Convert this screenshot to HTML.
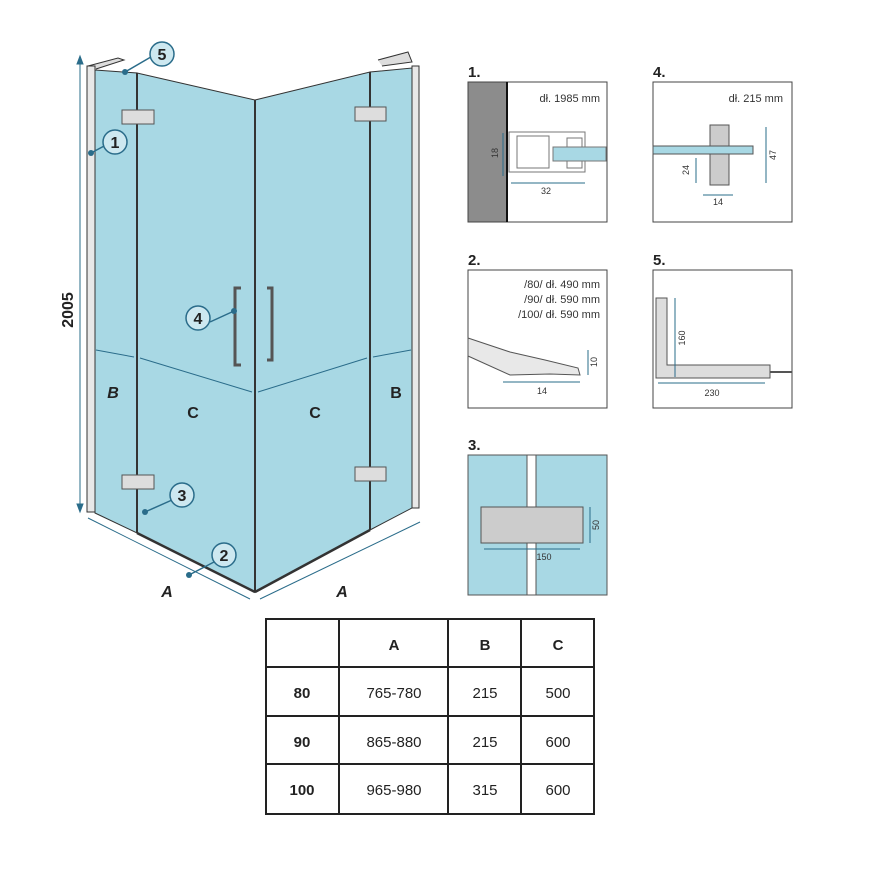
<!DOCTYPE html>
<html><head><meta charset="utf-8"><style>
html,body{margin:0;padding:0;background:#fff;}
svg{display:block;font-family:"Liberation Sans",sans-serif;}
</style></head><body>
<svg width="870" height="870" viewBox="0 0 870 870" xmlns="http://www.w3.org/2000/svg">
<!-- main shower -->
<g stroke="#333" stroke-width="1">
<!-- top wall brackets -->
<polyline points="88,66 118,58 124,60 96,69" fill="#ddd"/>
<polyline points="378,60 408,52 412,62 382,66" fill="#ddd"/>
<!-- left frame -->
<rect x="87" y="66" width="8" height="446" fill="#e8e8e8"/>
<!-- left fixed glass -->
<polygon points="95,70 137,73 137,533 95,513" fill="#a8d8e4"/>
<!-- left door -->
<polygon points="137,73 255,100 255,592 137,533" fill="#a8d8e4"/>
<!-- right door -->
<polygon points="255,100 370,72 370,530 255,592" fill="#a8d8e4"/>
<!-- right fixed -->
<polygon points="370,72 412,68 412,508 370,530" fill="#a8d8e4"/>
<rect x="412" y="66" width="7" height="442" fill="#e8e8e8"/>
</g>
<g stroke="#333" stroke-width="2" fill="none">
<line x1="137" y1="73" x2="137" y2="533"/>
<line x1="255" y1="100" x2="255" y2="592"/>
<line x1="370" y1="72" x2="370" y2="530"/>
<line x1="137" y1="533" x2="255" y2="592" stroke-width="2.5"/>
<line x1="255" y1="592" x2="370" y2="530" stroke-width="2.5"/>
</g>
<!-- hinges -->
<g fill="#ddd" stroke="#555" stroke-width="1">
<rect x="122" y="110" width="32" height="14"/>
<rect x="355" y="107" width="31" height="14"/>
<rect x="122" y="475" width="32" height="14"/>
<rect x="355" y="467" width="31" height="14"/>
</g>
<!-- handles -->
<g fill="none" stroke="#555" stroke-width="3">
<polyline points="241,288 235,288 235,365 241,365"/>
<polyline points="267,288 272,288 272,360 267,360"/>
</g>
<!-- dimension lines -->
<g stroke="#2a6c8a" stroke-width="1" fill="#2a6c8a">
<line x1="80" y1="58" x2="80" y2="510"/>
<polygon points="80,56 77,64 83,64"/><polygon points="80,512 77,504 83,504"/>
<line x1="96" y1="350" x2="134" y2="357"/>
<line x1="140" y1="358" x2="252" y2="392"/>
<line x1="258" y1="392" x2="367" y2="358"/>
<line x1="373" y1="357" x2="411" y2="350"/>
<line x1="88" y1="518" x2="250" y2="599"/>
<line x1="260" y1="599" x2="420" y2="522"/>
</g>
<g font-weight="bold" font-size="16" fill="#222">
<text x="73" y="310" transform="rotate(-90 73 310)" text-anchor="middle">2005</text>
<text x="113" y="398" text-anchor="middle" font-style="italic">B</text>
<text x="193" y="418" text-anchor="middle">C</text>
<text x="315" y="418" text-anchor="middle">C</text>
<text x="396" y="398" text-anchor="middle">B</text>
<text x="167" y="597" text-anchor="middle" font-style="italic">A</text>
<text x="342" y="597" text-anchor="middle" font-style="italic">A</text>
</g>
<!-- callouts -->
<g stroke="#2a6c8a" stroke-width="1.5">
<line x1="125" y1="72" x2="156" y2="54"/>
<line x1="91" y1="153" x2="106" y2="145"/>
<line x1="234" y1="311" x2="210" y2="322"/>
<line x1="145" y1="512" x2="172" y2="500"/>
<line x1="189" y1="575" x2="214" y2="562"/>
</g>
<g fill="#2a6c8a">
<circle cx="125" cy="72" r="3"/><circle cx="91" cy="153" r="3"/><circle cx="234" cy="311" r="3"/><circle cx="145" cy="512" r="3"/><circle cx="189" cy="575" r="3"/>
</g>
<g fill="#cde8f0" stroke="#2a6c8a" stroke-width="1.5">
<circle cx="162" cy="54" r="12"/><circle cx="115" cy="142" r="12"/><circle cx="198" cy="318" r="12"/><circle cx="182" cy="495" r="12"/><circle cx="224" cy="555" r="12"/>
</g>
<g font-size="16" font-weight="bold" fill="#222" text-anchor="middle">
<text x="162" y="60">5</text><text x="115" y="148">1</text><text x="198" y="324">4</text><text x="182" y="501">3</text><text x="224" y="561">2</text>
</g>

<!-- detail boxes -->
<g font-size="15" font-weight="bold" fill="#222">
<text x="468" y="77">1.</text><text x="653" y="77">4.</text>
<text x="468" y="265">2.</text><text x="653" y="265">5.</text>
<text x="468" y="450">3.</text>
</g>
<g fill="#fff" stroke="#444" stroke-width="1">
<rect x="468" y="82" width="139" height="140"/>
<rect x="653" y="82" width="139" height="140"/>
<rect x="468" y="270" width="139" height="138"/>
<rect x="653" y="270" width="139" height="138"/>
</g>
<!-- box1 -->
<rect x="468" y="82" width="39" height="140" fill="#8c8c8c" stroke="#444"/>
<line x1="507" y1="82" x2="507" y2="222" stroke="#111" stroke-width="2"/>
<g fill="none" stroke="#777" stroke-width="1">
<rect x="509" y="132" width="76" height="40"/>
<rect x="517" y="136" width="32" height="32"/>
<rect x="567" y="138" width="15" height="30"/>
</g>
<rect x="553" y="147" width="53" height="14" fill="#a8d8e4" stroke="#777"/>
<text x="600" y="102" font-size="11" text-anchor="end" fill="#333">dł. 1985 mm</text>
<line x1="503" y1="133" x2="503" y2="176" stroke="#2a6c8a"/>
<line x1="511" y1="183" x2="585" y2="183" stroke="#2a6c8a"/>
<text x="498" y="153" font-size="9" fill="#333" transform="rotate(-90 498 153)" text-anchor="middle">18</text>
<text x="546" y="194" font-size="9" fill="#333" text-anchor="middle">32</text>
<!-- box4 -->
<rect x="710" y="125" width="19" height="60" fill="#ccc" stroke="#555"/>
<rect x="653" y="146" width="100" height="8" fill="#a8d8e4" stroke="#555"/>
<text x="783" y="102" font-size="11" text-anchor="end" fill="#333">dł. 215 mm</text>
<g stroke="#2a6c8a"><line x1="766" y1="127" x2="766" y2="183"/><line x1="696" y1="158" x2="696" y2="183"/><line x1="703" y1="195" x2="733" y2="195"/></g>
<text x="776" y="155" font-size="9" fill="#333" transform="rotate(-90 776 155)" text-anchor="middle">47</text>
<text x="689" y="170" font-size="9" fill="#333" transform="rotate(-90 689 170)" text-anchor="middle">24</text>
<text x="718" y="205" font-size="9" fill="#333" text-anchor="middle">14</text>
<!-- box2 -->
<text x="600" y="288" font-size="11" text-anchor="end" fill="#333">/80/ dł. 490 mm</text>
<text x="600" y="303" font-size="11" text-anchor="end" fill="#333">/90/ dł. 590 mm</text>
<text x="600" y="318" font-size="11" text-anchor="end" fill="#333">/100/ dł. 590 mm</text>
<polygon points="468,338 510,352 545,360 578,368 580,375 550,374 510,375 468,356" fill="#e8e8e8" stroke="#555"/>
<line x1="503" y1="382" x2="580" y2="382" stroke="#2a6c8a"/>
<line x1="588" y1="350" x2="588" y2="375" stroke="#2a6c8a"/>
<text x="542" y="394" font-size="9" fill="#333" text-anchor="middle">14</text>
<text x="597" y="362" font-size="9" fill="#333" transform="rotate(-90 597 362)" text-anchor="middle">10</text>
<!-- box5 -->
<polygon points="656,298 667,298 667,365 770,365 770,378 656,378" fill="#ddd" stroke="#555"/>
<line x1="770" y1="372" x2="792" y2="372" stroke="#555" stroke-width="2"/>
<line x1="675" y1="298" x2="675" y2="377" stroke="#2a6c8a"/>
<line x1="658" y1="383" x2="765" y2="383" stroke="#2a6c8a"/>
<text x="685" y="338" font-size="9" fill="#333" transform="rotate(-90 685 338)" text-anchor="middle">160</text>
<text x="712" y="396" font-size="9" fill="#333" text-anchor="middle">230</text>
<!-- box3 -->
<rect x="468" y="455" width="139" height="140" fill="#a8d8e4" stroke="#555"/>
<rect x="527" y="455" width="9" height="140" fill="#fff" stroke="#555"/>
<rect x="481" y="507" width="102" height="36" fill="#ccc" stroke="#555"/>
<line x1="484" y1="549" x2="580" y2="549" stroke="#2a6c8a"/>
<line x1="590" y1="507" x2="590" y2="543" stroke="#2a6c8a"/>
<text x="544" y="560" font-size="9" fill="#333" text-anchor="middle">150</text>
<text x="599" y="525" font-size="9" fill="#333" transform="rotate(-90 599 525)" text-anchor="middle">50</text>

<!-- table -->
<g stroke="#222" stroke-width="2" fill="none">
<rect x="266" y="619" width="328" height="195"/>
<line x1="339" y1="619" x2="339" y2="814"/><line x1="448" y1="619" x2="448" y2="814"/><line x1="521" y1="619" x2="521" y2="814"/>
<line x1="266" y1="667" x2="594" y2="667"/><line x1="266" y1="716" x2="594" y2="716"/><line x1="266" y1="764" x2="594" y2="764"/>
</g>
<g font-size="15" fill="#222" text-anchor="middle">
<g font-weight="bold">
<text x="394" y="650">A</text><text x="485" y="650">B</text><text x="558" y="650">C</text>
<text x="302" y="698">80</text><text x="302" y="747">90</text><text x="302" y="795">100</text>
</g>
<text x="394" y="698">765-780</text><text x="485" y="698">215</text><text x="558" y="698">500</text>
<text x="394" y="747">865-880</text><text x="485" y="747">215</text><text x="558" y="747">600</text>
<text x="394" y="795">965-980</text><text x="485" y="795">315</text><text x="558" y="795">600</text>
</g>
</svg>
</body></html>
